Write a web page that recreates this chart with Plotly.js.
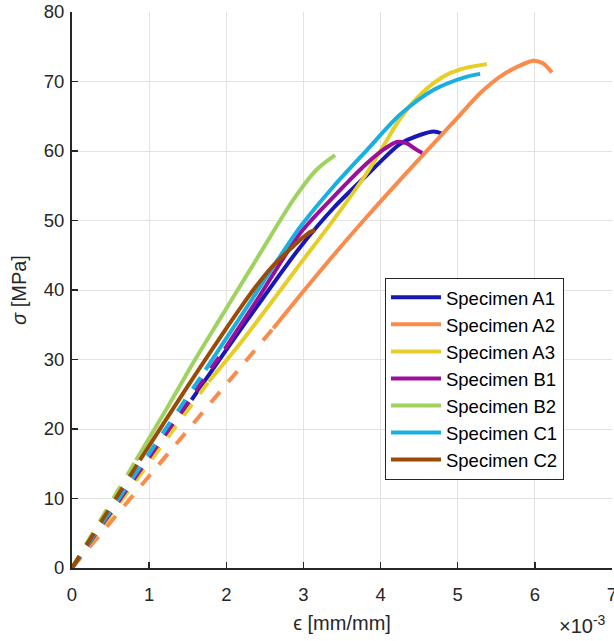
<!DOCTYPE html>
<html>
<head>
<meta charset="utf-8">
<script src="https://cdn.plot.ly/plotly-3.0.1.min.js"></script>
<style>html,body{margin:0;padding:0;background:#fff;}#chart{width:614px;height:641px;}</style>
</head>
<body>
<div id="chart"></div>
<script>
// strain values in units of 1e-3 mm/mm, stress in MPa
const names = ["Specimen A1","Specimen A2","Specimen A3","Specimen B1","Specimen B2","Specimen C1","Specimen C2"];
const colors = ["#1818b4","#fa8c4b","#e6cd28","#9b0f9b","#a0d25f","#19afe1","#9b4b05"];

const strainA1 = [1.55, 2.0, 2.46, 2.96, 3.39, 3.82, 4.25, 4.51, 4.69, 4.79];
const stressA1 = [24.2, 31.4, 38.6, 46.2, 51.8, 56.5, 61.0, 62.3, 62.8, 62.5];

const strainA2 = [2.61, 2.91, 3.39, 3.82, 4.25, 4.69, 4.99, 5.29, 5.55, 5.77, 5.98, 6.11, 6.22];
const stressA2 = [34.5, 38.6, 45.0, 50.5, 55.8, 61.1, 64.7, 68.3, 70.7, 72.1, 73.0, 72.6, 71.3];

const strainA3 = [1.77, 2.2, 2.61, 2.96, 3.39, 3.82, 4.04, 4.25, 4.47, 4.69, 4.90, 5.12, 5.38];
const stressA3 = [26.8, 32.6, 38.6, 43.8, 50.1, 56.8, 60.8, 64.6, 67.6, 69.8, 71.2, 72.0, 72.5];

const strainB1 = [1.98, 2.40, 2.96, 3.39, 3.82, 4.05, 4.21, 4.34, 4.45, 4.54];
const stressB1 = [31.5, 38.6, 48.2, 53.4, 58.2, 60.3, 61.3, 61.1, 60.3, 59.7];

const strainB2 = [0.83, 1.2, 1.57, 2.07, 2.44, 2.87, 3.17, 3.41];
const stressB2 = [15.5, 22.4, 29.5, 38.6, 45.3, 53.0, 57.3, 59.4];

const strainC1 = [1.73, 2.33, 2.96, 3.39, 3.82, 4.25, 4.69, 5.12, 5.29];
const stressC1 = [28.5, 38.6, 49.1, 54.9, 60.1, 65.2, 68.8, 70.7, 71.1];

const strainC2 = [0.88, 1.55, 2.22, 2.44, 2.65, 2.87, 3.0, 3.1, 3.15];
const stressC2 = [15.5, 27.0, 38.0, 41.3, 44.0, 46.3, 47.6, 48.4, 48.6];

const xTicks = [0,1,2,3,4,5,6,7];
const yTicks = [0,10,20,30,40,50,60,70,80];

const strains = [strainA1, strainA2, strainA3, strainB1, strainB2, strainC1, strainC2];
const stresses = [stressA1, stressA2, stressA3, stressB1, stressB2, stressC1, stressC2];

const traces = [];
for (let i = 0; i < names.length; i++) {
  traces.push({
    x: strains[i], y: stresses[i], type: 'scatter', mode: 'lines',
    name: names[i], line: {color: colors[i], width: 4, shape: 'spline', smoothing: 0.8}, showlegend: true
  });
}
for (let i = 0; i < names.length; i++) {
  traces.push({
    x: [0, strains[i][0]], y: [0, stresses[i][0]], type: 'scatter', mode: 'lines',
    name: names[i], line: {color: colors[i], width: 4, dash: '14px,13px'}, showlegend: false, hoverinfo: 'skip'
  });
}

const font = {family: '"Liberation Sans", Arial, Helvetica, sans-serif', color: '#262626'};
const axisCommon = {
  showline: true, linecolor: '#262626', linewidth: 2,
  ticks: 'inside', ticklen: 6, tickwidth: 1.5, tickcolor: '#262626',
  showgrid: true, gridcolor: '#e3e3e3', gridwidth: 1, zeroline: false,
  ticklabeloverflow: 'allow',
  tickfont: Object.assign({size: 18.5}, font)
};

const layout = {
  width: 614, height: 641,
  margin: {l: 72, r: 2, t: 12, b: 73},
  paper_bgcolor: '#ffffff', plot_bgcolor: '#ffffff',
  font: font,
  showlegend: true,
  xaxis: Object.assign({}, axisCommon, {
    range: [0, 7], tickvals: xTicks, ticktext: xTicks.map(String),
    ticklabelstandoff: 9,
    title: {text: 'ϵ [mm/mm]', font: Object.assign({size: 20}, font), standoff: 12}
  }),
  yaxis: Object.assign({}, axisCommon, {
    range: [0, 80], tickvals: yTicks, ticktext: yTicks.map(String),
    ticklabelstandoff: 2,
    title: {text: '<i>σ</i> [MPa]', font: Object.assign({size: 20}, font), standoff: 12}
  }),
  legend: {
    x: 0.5796, y: 0.522, xanchor: 'left', yanchor: 'top',
    bgcolor: '#ffffff', bordercolor: '#262626', borderwidth: 1,
    font: Object.assign({size: 18.5}, {family: font.family, color: '#000000'}),
    itemwidth: 50
  },
  annotations: [{
    xref: 'paper', yref: 'paper', x: 0.992, y: -0.1025, xanchor: 'right', yanchor: 'middle',
    text: '×10<sup>-3</sup>', showarrow: false, font: Object.assign({size: 20}, font)
  }]
};

Plotly.newPlot('chart', traces, layout, {displayModeBar: false, staticPlot: true});
</script>
</body>
</html>
